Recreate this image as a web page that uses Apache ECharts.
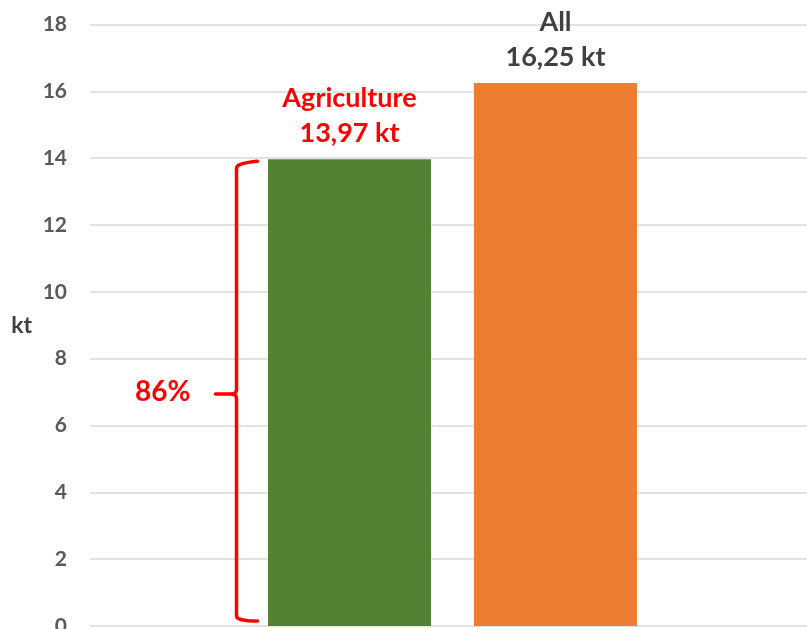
<!DOCTYPE html>
<html>
<head>
<meta charset="utf-8">
<script src="https://cdn.jsdelivr.net/npm/echarts@6/dist/echarts.min.js"></script>
<style>
  html, body { margin: 0; padding: 0; background: #fff; }
  #chart { width: 807px; height: 629px; }
</style>
</head>
<body>
<div id="chart"></div>
<script>
// Emissions by source (kt)
const categories = ['Agriculture', 'All'];
const values = [13.97, 16.25];
const barColors = ['#548235', '#ED7D31'];
const labelColors = ['#FF0000', '#404040'];
const yMin = 0;
const yMax = 18;
const yStep = 2;
const unit = 'kt';

const FONT = 'Lato';
const BAR_WIDTH = 163;
const fmt = v => v.toFixed(2).replace('.', ',') + ' ' + unit;
const share = Math.round(values[0] / values[1] * 100) + '%';

const chart = echarts.init(document.getElementById('chart'), null, { renderer: 'canvas' });

const plotTop = 24.5;
const plotBottom = 3;

chart.setOption({
  animation: false,
  backgroundColor: '#ffffff',
  grid: [
    { left: 90, right: 0, top: plotTop, bottom: plotBottom, containLabel: false, outerBoundsMode: 'none' },
    { left: 246.5, right: 148.5, top: plotTop, bottom: plotBottom, containLabel: false, outerBoundsMode: 'none' }
  ],
  xAxis: [
    { gridIndex: 0, type: 'category', data: categories, show: false },
    { gridIndex: 1, type: 'category', data: categories, show: false }
  ],
  yAxis: [
    {
      gridIndex: 0, type: 'value', min: yMin, max: yMax, interval: yStep,
      name: unit, nameLocation: 'middle', nameRotate: 0, nameGap: 58,
      nameTextStyle: { fontFamily: FONT, fontWeight: 'bold', fontSize: 23, color: '#404040', align: 'right', verticalAlign: 'middle', padding: [6, 0, 0, 0] },
      axisLine: { show: false }, axisTick: { show: false },
      axisLabel: { fontFamily: FONT, fontWeight: 'bold', fontSize: 21, color: '#595959', margin: 23 },
      splitLine: { lineStyle: { color: '#d9d9d9', width: 1.5 } }
    },
    {
      gridIndex: 1, type: 'value', min: yMin, max: yMax, interval: yStep, show: false,
      splitLine: { show: false }
    }
  ],
  series: [{
    type: 'bar',
    xAxisIndex: 1, yAxisIndex: 1,
    barWidth: BAR_WIDTH,
    data: values.map((v, i) => ({
      value: v,
      itemStyle: { color: barColors[i] },
      label: { color: labelColors[i] }
    })),
    label: {
      show: true,
      position: 'top',
      distance: 8,
      fontFamily: FONT,
      fontWeight: 'bold',
      fontSize: 27,
      lineHeight: 35,
      align: 'center',
      formatter: p => p.name + '\n' + fmt(p.value)
    }
  }]
});

// Quadratic curve sampled into points (start excluded)
function quad(p0, c, p1, n) {
  const pts = [];
  for (let i = 1; i <= n; i++) {
    const t = i / n, u = 1 - t;
    pts.push([u * u * p0[0] + 2 * u * t * c[0] + t * t * p1[0],
              u * u * p0[1] + 2 * u * t * c[1] + t * t * p1[1]]);
  }
  return pts;
}

// Brace spanning the Agriculture bar, with its share of the total
function drawBrace() {
  const yTop = chart.convertToPixel({ yAxisIndex: 1 }, values[0]) + 4;
  const yBot = chart.convertToPixel({ yAxisIndex: 1 }, 0) - 5;
  const barLeft = chart.convertToPixel({ xAxisIndex: 1 }, categories[0]) - BAR_WIDTH / 2;
  const x0 = barLeft - 31.5;
  const yMid = (yTop + yBot) / 2 + 2;
  const arm = 21, r = 5;

  const upper = [[x0 + arm, yTop - 2]]
    .concat(quad([x0 + arm, yTop - 2], [x0, yTop], [x0, yTop + r], 8))
    .concat([[x0, yMid - r]])
    .concat(quad([x0, yMid - r], [x0, yMid], [x0 - r, yMid], 6))
    .concat([[x0 - arm, yMid]]);
  const lower = [[x0 - r, yMid]]
    .concat(quad([x0 - r, yMid], [x0, yMid], [x0, yMid + r], 6))
    .concat([[x0, yBot - r]])
    .concat(quad([x0, yBot - r], [x0, yBot], [x0 + arm, yBot], 8));

  const stroke = { fill: null, stroke: '#FF0000', lineWidth: 3.5, lineCap: 'round', lineJoin: 'round' };
  chart.setOption({
    graphic: [
      { type: 'polyline', shape: { points: upper }, style: stroke, silent: true },
      { type: 'polyline', shape: { points: lower }, style: stroke, silent: true },
      {
        type: 'text',
        x: x0 - arm - 25, y: yMid - 2,
        style: {
          text: share, fill: '#FF0000', fontFamily: FONT, fontWeight: 'bold', fontSize: 28,
          align: 'right', verticalAlign: 'middle'
        },
        silent: true
      }
    ]
  });
}
drawBrace();
</script>
</body>
</html>
